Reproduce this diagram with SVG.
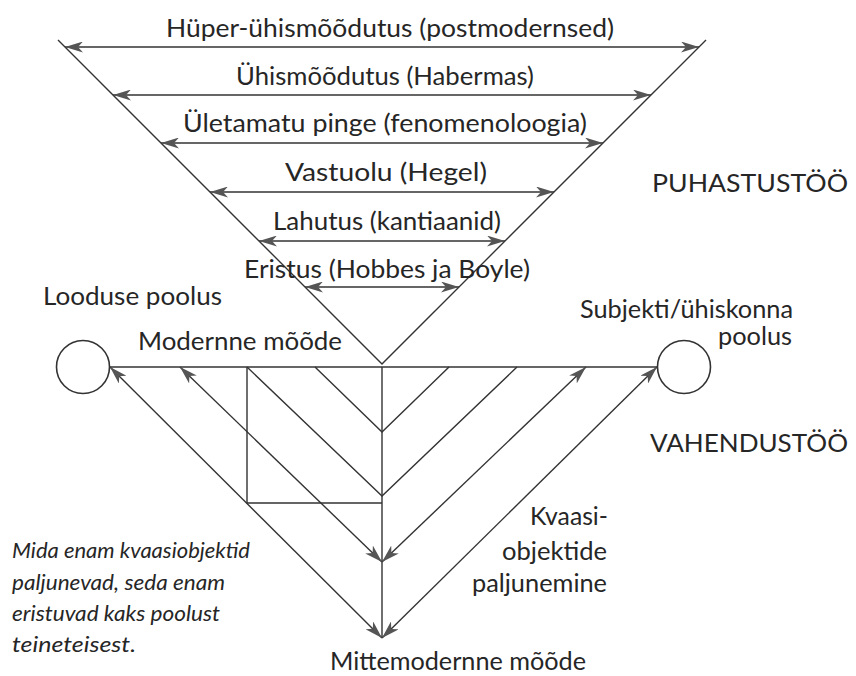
<svg xmlns="http://www.w3.org/2000/svg" width="856" height="676" viewBox="0 0 856 676">
<defs>
<style>
text{font-family:Lato,"Open Sans","DejaVu Sans",sans-serif;font-size:25px;fill:#262626}
.it{font-style:italic;font-size:21px}
.ln{fill:none;stroke:#333;stroke-width:1.4}
.ar{marker-start:url(#ah);marker-end:url(#ah)}
.pole{fill:#fff;stroke:#333;stroke-width:1.6}
</style>
<marker id="ah" viewBox="0 0 18 11" refX="18" refY="5.5" markerWidth="18" markerHeight="11" markerUnits="userSpaceOnUse" orient="auto-start-reverse">
<path d="M0,0 L18,5.5 L0,11 L5,5.5 Z" fill="#555"/>
</marker>
</defs>
<rect width="856" height="676" fill="#fff"/>
<g id="connectors">
<path class="ln" d="M58,40 L382,364 L706,40"/>
<line class="ln ar" x1="65" y1="47" x2="699" y2="47"/>
<line class="ln ar" x1="113" y1="95" x2="651" y2="95"/>
<line class="ln ar" x1="161" y1="143" x2="603" y2="143"/>
<line class="ln ar" x1="210" y1="192" x2="554" y2="192"/>
<line class="ln ar" x1="259" y1="241" x2="505" y2="241"/>
<line class="ln ar" x1="305" y1="287" x2="459" y2="287"/>
<line class="ln" x1="109" y1="367" x2="658" y2="367"/>
<line class="ln" x1="382" y1="367" x2="382" y2="638"/>
<path class="ln" d="M247,367 V503 H382"/>
<path class="ln" d="M315,367 L382,432 L449,367"/>
<path class="ln" d="M247,367 L382,496 L517,367"/>
<line class="ln ar" x1="180" y1="367" x2="382" y2="562"/>
<line class="ln ar" x1="586" y1="367" x2="382" y2="562"/>
<line class="ln ar" x1="110" y1="367" x2="382" y2="638"/>
<line class="ln ar" x1="657" y1="367" x2="382" y2="638"/>
</g>
<g id="pole-nature"><circle class="pole" cx="83" cy="367" r="26.5"/></g>
<g id="pole-subject"><circle class="pole" cx="684" cy="367" r="26.5"/></g>
<g id="labels-top">
<text x="390" y="37" text-anchor="middle" textLength="448" lengthAdjust="spacingAndGlyphs">Hüper-ühismõõdutus (postmodernsed)</text>
<text x="385" y="85" text-anchor="middle" textLength="298" lengthAdjust="spacingAndGlyphs">Ühismõõdutus (Habermas)</text>
<text x="385" y="132" text-anchor="middle" textLength="404" lengthAdjust="spacingAndGlyphs">Ületamatu pinge (fenomenoloogia)</text>
<text x="386" y="181" text-anchor="middle" textLength="202" lengthAdjust="spacingAndGlyphs">Vastuolu (Hegel)</text>
<text x="387" y="230" text-anchor="middle" textLength="228" lengthAdjust="spacingAndGlyphs">Lahutus (kantiaanid)</text>
<text x="387" y="278" text-anchor="middle" textLength="286" lengthAdjust="spacingAndGlyphs">Eristus (Hobbes ja Boyle)</text>
</g>
<g id="label-nature"><text x="43" y="305" textLength="179" lengthAdjust="spacingAndGlyphs">Looduse poolus</text></g>
<g id="label-modern"><text x="138" y="350" textLength="204" lengthAdjust="spacingAndGlyphs">Modernne mõõde</text></g>
<g id="label-subject"><text x="580" y="318" textLength="213" lengthAdjust="spacingAndGlyphs">Subjekti/ühiskonna</text><text x="718" y="345" textLength="74" lengthAdjust="spacingAndGlyphs">poolus</text></g>
<g id="label-purify"><text x="652" y="192" textLength="196" lengthAdjust="spacingAndGlyphs">PUHASTUSTÖÖ</text></g>
<g id="label-mediate"><text x="650" y="452" textLength="198" lengthAdjust="spacingAndGlyphs">VAHENDUSTÖÖ</text></g>
<g id="label-quasi"><text x="530" y="525" textLength="78" lengthAdjust="spacingAndGlyphs">Kvaasi-</text><text x="502" y="560" textLength="105" lengthAdjust="spacingAndGlyphs">objektide</text><text x="472" y="592" textLength="135" lengthAdjust="spacingAndGlyphs">paljunemine</text></g>
<g id="note"><text class="it" x="12" y="558" textLength="238" lengthAdjust="spacingAndGlyphs">Mida enam kvaasiobjektid</text><text class="it" x="12" y="590" textLength="213" lengthAdjust="spacingAndGlyphs">paljunevad, seda enam</text><text class="it" x="12" y="621" textLength="208" lengthAdjust="spacingAndGlyphs">eristuvad kaks poolust</text><text class="it" x="12" y="652" textLength="124" lengthAdjust="spacingAndGlyphs">teineteisest.</text></g>
<g id="label-nonmodern"><text x="330" y="670" textLength="256" lengthAdjust="spacingAndGlyphs">Mittemodernne mõõde</text></g>
</svg>
